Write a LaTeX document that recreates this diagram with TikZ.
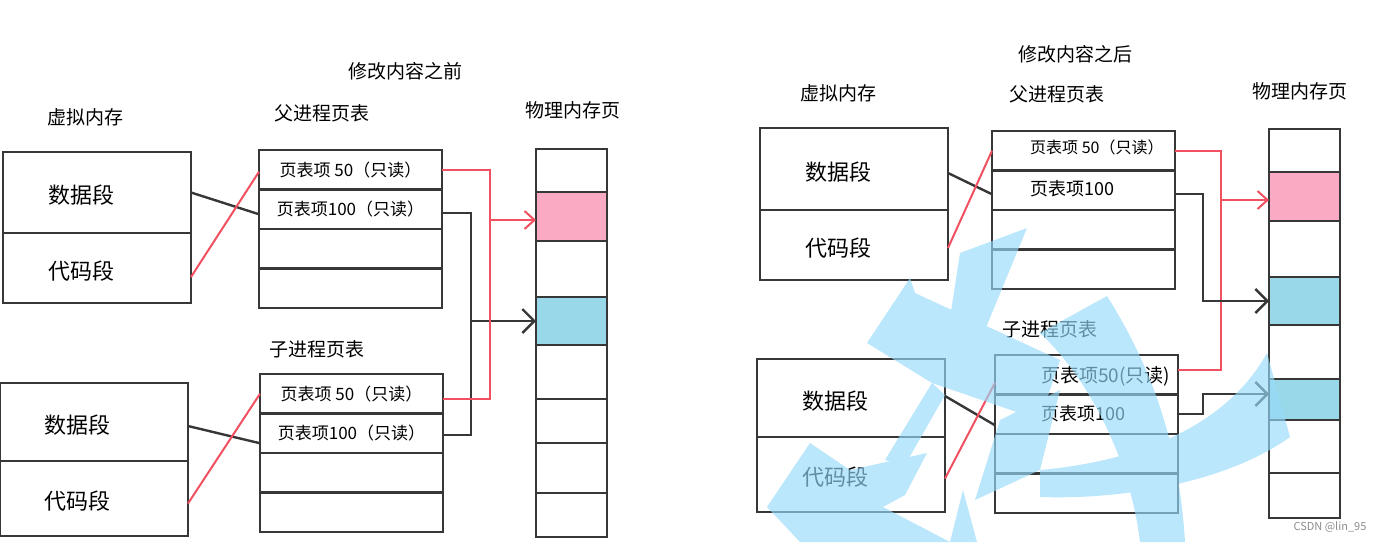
\documentclass[tikz,border=0pt]{standalone}
\usepackage{fontspec}
\setmainfont{Noto Sans CJK SC}
\usetikzlibrary{positioning,arrows.meta}
\definecolor{InkGray}{RGB}{55,55,55}
\definecolor{PenRed}{RGB}{240,80,95}
\definecolor{PagePink}{RGB}{251,170,196}
\definecolor{PageBlue}{RGB}{153,216,232}
\definecolor{MarkBlue}{RGB}{150,218,250}
\tikzset{
  cell/.style={draw=InkGray,line width=2.4pt,anchor=north west,inner sep=0pt,outer sep=0pt},
  vm/.style={cell,text width=98pt,inner xsep=45pt,align=left,text height=27pt,text depth=5pt,font=\fontsize{22}{26}\selectfont},
  pt/.style={cell,minimum width=183pt,minimum height=39.5pt,font=\fontsize{17}{20}\selectfont},
  pm/.style={cell,minimum width=71pt},
  ttl/.style={font=\fontsize{19}{22}\selectfont},
  ent/.style={anchor=west,inner sep=0pt,font=\fontsize{16}{19}\selectfont},
}
\tikzset{ink/.style={draw=InkGray,line width=2.4pt}, pen/.style={draw=PenRed,line width=2pt},
  barb/.style={-{Straight Barb[length=12pt,width=24pt]}}, wm/.style={fill=MarkBlue}}

\begin{document}
\begin{tikzpicture}[x=1pt,y=-1pt]
\useasboundingbox (0,0) rectangle (1377,542);
% before
\node[ttl](tt1) at (405,71){修改内容之前};\node[ttl](vh1) at (85,117){虚拟内存};
\node[ttl](ph1) at (322,113){父进程页表};\node[ttl](mh1) at (573,110){物理内存页};\node[ttl](ch1) at (317,349){子进程页表};
\node[vm,minimum height=81pt](va1) at (3,152){数据段};\node[vm,minimum height=70pt,below=0pt of va1](va2){代码段};
\node[vm,minimum height=78pt](vb1) at (0,383){数据段};\node[vm,minimum height=75pt,below=0pt of vb1](vb2){代码段};
\node[pt](pa1) at (259,150){页表项 50（只读）};\node[pt,below=0pt of pa1](pa2){页表项100（只读）};
\node[pt,below=0pt of pa2](pa3){};\node[pt,below=0pt of pa3](pa4){};
\node[pt](pb1) at (260,374){页表项 50（只读）};\node[pt,below=0pt of pb1](pb2){页表项100（只读）};
\node[pt,below=0pt of pb2](pb3){};\node[pt,below=0pt of pb3](pb4){};
\node[pm,minimum height=43pt](ma1) at (536,149){};\node[pm,minimum height=49pt,fill=PagePink,below=0pt of ma1](ma2){};
\node[pm,minimum height=56pt,below=0pt of ma2](ma3){};\node[pm,minimum height=48pt,fill=PageBlue,below=0pt of ma3](ma4){};
\node[pm,minimum height=54pt,below=0pt of ma4](ma5){};\node[pm,minimum height=44pt,below=0pt of ma5](ma6){};
\node[pm,minimum height=50pt,below=0pt of ma6](ma7){};\node[pm,minimum height=44pt,below=0pt of ma7](ma8){};
\draw[ink](va1.east)--([yshift=-5pt]pa2.west);\draw[pen]([yshift=-9pt]va2.east)--([yshift=-2pt]pa1.west);
\draw[ink]([yshift=-4pt]vb1.east)--([yshift=-10pt]pb2.west);\draw[pen]([yshift=-5pt]vb2.east)--(pb1.west);
\coordinate(ra) at (490,220);\coordinate(ka) at (471,321);
\draw[ink]([yshift=-4pt]pa2.east)-|(ka)|-([yshift=-2pt]pb2.east);\draw[ink,barb](ka)--(ka-|ma4.west);
\draw[pen](pa1.east)-|(ra)|-([yshift=-5pt]pb1.east);\draw[pen,-{Straight Barb[length=10pt,width=18pt]}](ra)--(ra-|ma2.west);
% after
\node[ttl](tt2) at (1075,54){修改内容之后};\node[ttl](vh2) at (838,93){虚拟内存};
\node[ttl](ph2) at (1057,94){父进程页表};\node[ttl](mh2) at (1300,91){物理内存页};\node[ttl](ch2) at (1050,329){子进程页表};
\node[vm,minimum height=82pt](wa1) at (760,128){数据段};\node[vm,minimum height=70pt,below=0pt of wa1](wa2){代码段};
\node[vm,minimum height=78pt](wb1) at (757,359){数据段};\node[vm,minimum height=75pt,below=0pt of wb1](wb2){代码段};
\node[pt](qa1) at (992,131){};\node[pt,below=0pt of qa1](qa2){};\node[pt,below=0pt of qa2](qa3){};\node[pt,below=0pt of qa3](qa4){};
\node[pt](qb1) at (995,355){};\node[pt,below=0pt of qb1](qb2){};\node[pt,below=0pt of qb2](qb3){};\node[pt,below=0pt of qb3](qb4){};
\node[ent](qt1) at (1030,147){页表项 50（只读）};\node[ent,font=\fontsize{18}{21}\selectfont](qt2) at (1030,189){页表项100};
\node[ent,font=\fontsize{19}{22}\selectfont](qt3) at (1041,376){页表项50(只读)};\node[ent,font=\fontsize{18}{21}\selectfont](qt4) at (1041,414){页表项100};
\node[pm,minimum height=43pt](mb1) at (1269,129){};\node[pm,minimum height=49pt,fill=PagePink,below=0pt of mb1](mb2){};
\node[pm,minimum height=56pt,below=0pt of mb2](mb3){};\node[pm,minimum height=48pt,fill=PageBlue,below=0pt of mb3](mb4){};
\node[pm,minimum height=54pt,below=0pt of mb4](mb5){};\node[pm,minimum height=41pt,fill=PageBlue,below=0pt of mb5](mb6){};
\node[pm,minimum height=53pt,below=0pt of mb6](mb7){};\node[pm,minimum height=45pt,below=0pt of mb7](mb8){};
\draw[ink]([yshift=-4pt]wa1.east)--([yshift=-4pt]qa2.west);\draw[pen]([yshift=-3pt]wa2.east)--(qa1.west);
\draw[ink]([yshift=2pt]wb1.east)--([yshift=-11pt]qb2.west);\draw[pen]([yshift=-4pt]wb2.east)--([yshift=-8pt]qb1.west);
\coordinate(rc) at (1221,200);\coordinate(kc) at (1203,301);\coordinate(kd) at (1203,394);
\draw[pen](qa1.east)-|(rc)|-([yshift=5pt]qb1.east);\draw[pen,-{Straight Barb[length=10pt,width=18pt]}](rc)--(rc-|mb2.west);
\draw[ink,barb]([yshift=-4pt]qa2.east)-|(kc)--(kc-|mb4.west);\draw[ink,barb](qb2.east)-|(kd)--(kd-|mb6.west);
% watermark
\begin{scope}[transparency group,opacity=.65]
\fill[wm](960,253)--(1027,228)--(985,330)--(950,318)--cycle;
\fill[wm](867,343)--(910,278)--(915,293)--(1060,360)--(1040,420)--(932,383)--cycle;
\fill[wm](1107,296)..controls(1160,380)and(1180,460)..(1185,542)--(1140,542)..controls(1130,460)and(1090,380)..(1040,333)--cycle;
\fill[wm](1040,470)..controls(1150,460)and(1230,420)..(1267,353)--(1290,437)..controls(1230,480)and(1130,500)..(1040,497)--cycle;
\fill[wm](767,507)--(810,443)--(850,470)--(927,453)--(905,495)--(883,507)--(950,542)--(800,542)--cycle;
\fill[wm](932,383)--(945,395)--(905,465)--(885,460)--cycle;
\fill[wm](963,490)--(977,542)--(950,542)--cycle;
\fill[wm](1000,420)--(1060,390)--(1040,470)--(975,500)--cycle;
\end{scope}
\node[text=black!45,font=\fontsize{11}{13}\selectfont](mk) at (1330,527){CSDN @lin\_95};
\end{tikzpicture}
\end{document}
